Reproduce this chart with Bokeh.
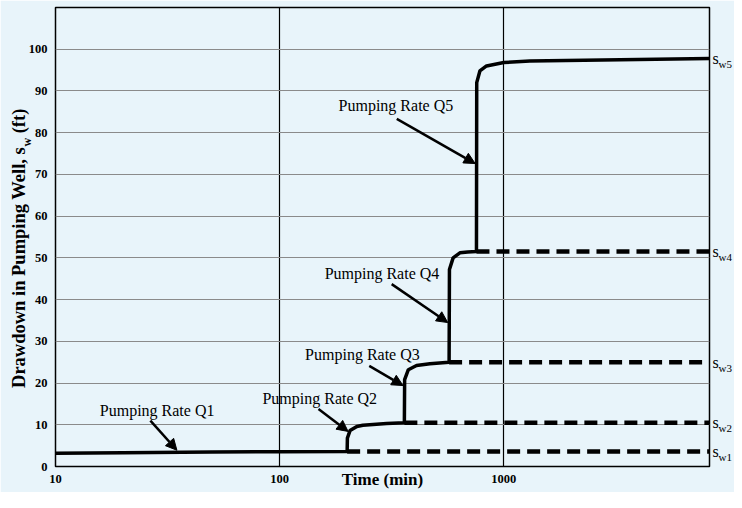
from bokeh.plotting import figure
from bokeh.models import (ColumnDataSource, FixedTicker, Arrow, NormalHead,
                          NumeralTickFormatter, Range1d, LinearAxis)
from bokeh.core.properties import value
from bokeh.embed import file_html
from bokeh.resources import INLINE

# ---- data ----
curve_time = [10, 20, 50, 100, 200, 200.5, 206, 221, 235, 300, 360,
              361, 375, 408, 468, 570,
              572, 594, 637, 690, 755,
              757, 782, 837, 1000, 1306, 3300, 8270]
curve_drawdown = [3.2, 3.3, 3.45, 3.55, 3.6, 6.8, 8.6, 9.6, 9.9, 10.3, 10.5,
                  20.8, 23.2, 24.2, 24.6, 25.0,
                  47.2, 50.0, 51.2, 51.4, 51.5,
                  92.0, 94.8, 96.0, 96.8, 97.2, 97.5, 97.8]

step_start_time = [200, 360, 570, 755]
step_level = [3.6, 10.5, 25.0, 51.5]
end_time = 8270

sw_level = [3.6, 10.5, 25.0, 51.5, 97.8]
sw_sub = ["w1", "w2", "w3", "w4", "w5"]
sw_sub_pos = [2.3, 9.2, 23.7, 50.2, 96.5]

rate_labels = ["Pumping Rate Q1", "Pumping Rate Q2", "Pumping Rate Q3",
               "Pumping Rate Q4", "Pumping Rate Q5"]
label_time = [28.4, 151, 234, 286, 330]
label_drawdown = [13.4, 16.3, 26.9, 46.3, 86.4]
arrow_start_time = [26.5, 149, 251, 316, 333]
arrow_start_dd = [11.0, 13.8, 24.1, 43.7, 83.3]
arrow_end_time = [34.8, 202, 355, 562, 745]
arrow_end_dd = [3.9, 8.4, 19.4, 34.5, 72.6]

x_ticks = [10, 100, 1000]
y_ticks = list(range(0, 101, 10))

# y-axis title pieces (main text, subscript, unit) and where they sit
ytitle_main, ytitle_main_pos = "Drawdown in Pumping Well, s", 47.7
ytitle_sub, ytitle_sub_pos = "w", 77.7
ytitle_unit, ytitle_unit_pos = "(ft)", 82.8

BG = "#E8F4FA"
SERIF = "Liberation Serif"

p = figure(width=734, height=492, x_axis_type="log",
           x_range=Range1d(10, end_time), y_range=Range1d(0, 110),
           output_backend="svg", toolbar_location=None,
           min_border_left=55, min_border_right=24, min_border_top=7,
           min_border_bottom=26)
p.background_fill_color = BG
p.border_fill_color = BG
p.outline_line_color = "black"
p.outline_line_width = 1.5


def plain(ax, size, bold=True):
    ax.axis_line_color = None
    ax.major_tick_line_color = None
    ax.minor_tick_line_color = None
    ax.major_tick_out = 0
    ax.major_tick_in = 0
    ax.major_label_text_font = SERIF
    ax.major_label_text_font_style = "bold" if bold else "normal"
    ax.major_label_text_font_size = size
    ax.major_label_text_color = "black"


plain(p.xaxis[0], "12.5px")
plain(p.yaxis[0], "12.5px")
p.xaxis.ticker = FixedTicker(ticks=x_ticks)
p.xaxis.formatter = NumeralTickFormatter(format="0")
p.xaxis.major_label_standoff = 8
p.xaxis.axis_label = "Time (min)"
p.xaxis.axis_label_text_font = SERIF
p.xaxis.axis_label_text_font_style = "bold"
p.xaxis.axis_label_text_font_size = "17px"
p.xaxis.axis_label_text_color = "black"
p.xaxis.axis_label_standoff = -16
p.yaxis.ticker = FixedTicker(ticks=y_ticks)
p.yaxis.major_label_standoff = 8

# y-axis title built from vertical labels (to allow the subscript)
ax_sub = LinearAxis(ticker=FixedTicker(ticks=[ytitle_sub_pos]),
                    major_label_overrides={ytitle_sub_pos: ytitle_sub},
                    major_label_orientation="vertical", major_label_standoff=-9)
plain(ax_sub, "12px")
p.add_layout(ax_sub, "left")
ax_main = LinearAxis(ticker=FixedTicker(ticks=[ytitle_main_pos, ytitle_unit_pos]),
                     major_label_overrides={ytitle_main_pos: ytitle_main,
                                            ytitle_unit_pos: ytitle_unit},
                     major_label_orientation="vertical", major_label_standoff=-12)
plain(ax_main, "18.5px")
p.add_layout(ax_main, "left")

# right-hand s_w labels (s and its subscript)
ax_s = LinearAxis(ticker=FixedTicker(ticks=sw_level),
                  major_label_overrides={v: "s" for v in sw_level},
                  major_label_standoff=3)
plain(ax_s, "16px", bold=False)
p.add_layout(ax_s, "right")
ax_w = LinearAxis(ticker=FixedTicker(ticks=sw_sub_pos),
                  major_label_overrides=dict(zip(sw_sub_pos, sw_sub)),
                  major_label_standoff=-3)
plain(ax_w, "11px", bold=False)
p.add_layout(ax_w, "right")

# grid
p.ygrid.ticker = FixedTicker(ticks=y_ticks[1:])
p.ygrid.grid_line_color = "#8a8a8a"
p.ygrid.grid_line_width = 1
p.xgrid.ticker = FixedTicker(ticks=x_ticks[1:])
p.xgrid.grid_line_color = "black"
p.xgrid.grid_line_width = 1.2

# dashed continuations
p.segment(x0=step_start_time, y0=step_level,
          x1=[end_time] * len(step_level), y1=step_level,
          line_color="black", line_width=4.5, line_dash="13 7")

# drawdown curve
p.line(curve_time, curve_drawdown, line_color="black", line_width=3.5,
       line_join="round")

# annotations
src_txt = ColumnDataSource(dict(t=label_time, v=label_drawdown, txt=rate_labels))
p.text(x="t", y="v", text="txt", source=src_txt, text_font=value(SERIF),
       text_font_size="16px", text_align="center", text_baseline="middle",
       text_color="black")

src_arr = ColumnDataSource(dict(xs=arrow_start_time, ys=arrow_start_dd,
                                xe=arrow_end_time, ye=arrow_end_dd))
p.add_layout(Arrow(end=NormalHead(size=11, fill_color="black", line_color="black",
                                  line_width=1),
                   x_start="xs", y_start="ys", x_end="xe", y_end="ye",
                   source=src_arr, line_color="black", line_width=2.5))

open("out.html", "w").write(file_html(p, INLINE))
